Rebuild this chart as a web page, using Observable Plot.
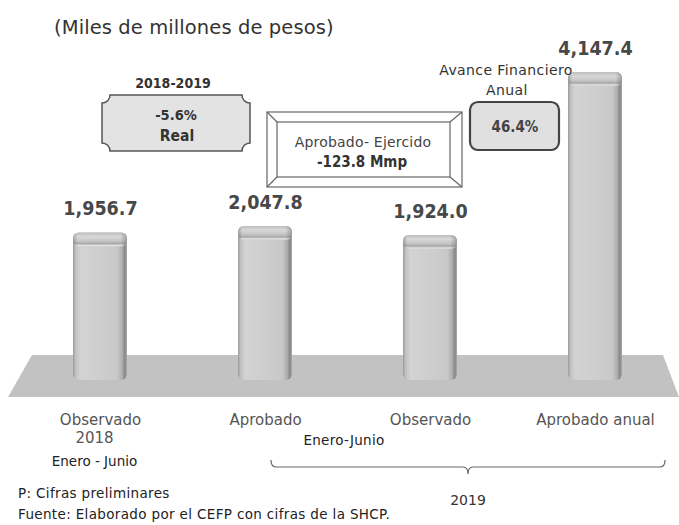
<!DOCTYPE html>
<html><head><meta charset="utf-8">
<script src="https://cdn.jsdelivr.net/npm/d3@7"></script>
<script src="https://cdn.jsdelivr.net/npm/@observablehq/plot@0.6"></script>
<style>body{margin:0;background:#fff} svg{display:block}</style>
</head><body><div id="chart"></div>
<script>
// ---- data ----
const categories = ["Observado 2018", "Aprobado", "Observado", "Aprobado anual"];
const values = [1956.7, 2047.8, 1924.0, 4147.4];
const valueLabels = ["1,956.7", "2,047.8", "1,924.0", "4,147.4"];
const tickLine1 = ["Observado", "Aprobado", "Observado", "Aprobado anual"];
const tickLine2 = ["2018", "", "", ""];
const tickLine3 = ["Enero - Junio", "", "", ""];
const title = "(Miles de millones de pesos)";
const groupLabel = "Enero-Junio";
const bracketLabel = "2019";
const notes = ["P: Cifras preliminares", "Fuente: Elaborado por el CEFP con cifras de la SHCP."];
const realChange = ["2018-2019", "-5.6%", "Real"];
const gapBox = ["Aprobado- Ejercido", "-123.8 Mmp"];
const advance = ["Avance Financiero", "Anual", "46.4%"];

const data = categories.map((c, i) => ({cat: c, val: values[i], label: valueLabels[i],
  l1: tickLine1[i], l2: tickLine2[i], l3: tickLine3[i]}));

const SANS = "DejaVu Sans, Verdana, sans-serif";
const COND = "DejaVu Sans Condensed, DejaVu Sans, sans-serif";

function background(index, scales) {
  const y0 = scales.y(0);
  const g = d3.create("svg:g");
  const defs = g.append("defs");
  const body = defs.append("linearGradient").attr("id", "barGrad").attr("x1", 0).attr("x2", 1).attr("y1", 0).attr("y2", 0);
  [[0, "#9a9a9a"], [0.05, "#c2c2c2"], [0.14, "#d3d3d3"], [0.5, "#cecece"], [0.82, "#c8c8c8"], [0.91, "#aeaeae"], [0.96, "#858585"], [1, "#aaaaaa"]]
    .forEach(([o, c]) => body.append("stop").attr("offset", o).attr("stop-color", c));
  const cap = defs.append("linearGradient").attr("id", "capGrad").attr("x1", 0).attr("x2", 0).attr("y1", 0).attr("y2", 1);
  [[0, "#bdbdbd"], [0.3, "#d8d8d8"], [0.6, "#c6c6c6"], [0.8, "#a8a8a8"], [0.92, "#e2e2e2"], [1, "#d2d2d2"]]
    .forEach(([o, c]) => cap.append("stop").attr("offset", o).attr("stop-color", c));
  const edge = defs.append("linearGradient").attr("id", "edgeGrad").attr("x1", 0).attr("x2", 1).attr("y1", 0).attr("y2", 0);
  [[0, "rgba(80,80,80,0.4)"], [0.08, "rgba(80,80,80,0)"], [0.88, "rgba(80,80,80,0)"], [1, "rgba(80,80,80,0.4)"]]
    .forEach(([o, c]) => edge.append("stop").attr("offset", o).attr("stop-color", c));
  // floor
  g.append("path")
    .attr("d", `M32,${y0 - 21} L663,${y0 - 21} L679,${y0 + 21} L8,${y0 + 21} Z`)
    .attr("fill", "#c2c2c2");
  return g.node();
}

function txt(g, x, y, s, opts = {}) {
  g.append("text").attr("x", x).attr("y", y).text(s)
    .attr("text-anchor", opts.anchor || "middle")
    .attr("dominant-baseline", "central")
    .attr("font-family", opts.family || SANS)
    .attr("font-size", opts.size || 13)
    .attr("font-weight", opts.weight || "normal")
    .attr("letter-spacing", opts.ls || 0)
    .attr("fill", opts.fill || "#333");
}

function foreground(index, scales) {
  const g = d3.create("svg:g");
  // title
  txt(g, 54, 27, title, {anchor: "start", size: 19.5, fill: "#333", ls: 0.1});
  // plaque box (real change)
  g.append("path")
    .attr("d", "M110,95 H242 A8,8 0 0 0 250,103 V143 A8,8 0 0 0 242,151 H110 A8,8 0 0 0 102,143 V103 A8,8 0 0 0 110,95 Z")
    .attr("fill", "#e3e3e3").attr("stroke", "#555").attr("stroke-width", 1.5);
  txt(g, 173, 83, realChange[0], {family: COND, weight: "bold", size: 14});
  txt(g, 176, 115, realChange[1], {family: COND, weight: "bold", size: 14.5});
  txt(g, 177, 136, realChange[2], {family: COND, weight: "bold", size: 15.5});
  // bevel frame (aprobado - ejercido)
  const fr = g.append("g").attr("fill", "none").attr("stroke", "#666").attr("stroke-width", 1.2);
  fr.append("rect").attr("x", 267).attr("y", 112).attr("width", 195).attr("height", 75).attr("fill", "#fff");
  fr.append("rect").attr("x", 277).attr("y", 122).attr("width", 173).attr("height", 55);
  fr.append("path").attr("d", "M267,112 L277,122 M462,112 L450,122 M267,187 L277,177 M462,187 L450,177");
  txt(g, 363, 142, gapBox[0], {size: 14, fill: "#444", ls: 0.2});
  txt(g, 362, 162, gapBox[1], {family: COND, weight: "bold", size: 15});
  // avance financiero
  txt(g, 506, 70, advance[0], {size: 14, fill: "#333", ls: 0.4});
  txt(g, 507, 90, advance[1], {size: 14, fill: "#333", ls: 0.4});
  g.append("rect").attr("x", 470).attr("y", 102).attr("width", 89).attr("height", 48).attr("rx", 8)
    .attr("fill", "#e0e0e0").attr("stroke", "#444").attr("stroke-width", 2.2);
  txt(g, 515, 127, advance[2], {family: COND, weight: "bold", size: 15, fill: "#444"});
  // group label and bracket
  txt(g, 344, 440, groupLabel, {size: 13.5, fill: "#222", ls: 0.3});
  g.append("path")
    .attr("d", "M271,460 Q271,467 276,467 H463 Q468,467 468,474 Q468,467 473,467 H660 Q665,467 665,460")
    .attr("fill", "none").attr("stroke", "#666").attr("stroke-width", 1.2);
  txt(g, 468, 500, bracketLabel, {size: 14, fill: "#333"});
  // notes
  txt(g, 18, 493, notes[0], {anchor: "start", size: 13.5, fill: "#222", ls: 0.35});
  txt(g, 18, 514, notes[1], {anchor: "start", size: 13.5, fill: "#222", ls: 0.35});
  return g.node();
}

const chart = Plot.plot({
  width: 679,
  height: 525,
  margin: 0,
  style: {background: "#fff"},
  x: {type: "band", domain: categories, range: [17.5, 677.5], paddingInner: 0.673, paddingOuter: 0.3365, axis: null},
  y: {domain: [0, 4147.4], range: [376, 72], axis: null},
  marks: [
    background,
    Plot.barY(data, {x: "cat", y: "val", fill: "url(#barGrad)", rx: 6, insetBottom: -4}),
    Plot.barY(data, {x: "cat", y1: "val", y2: "val", insetBottom: -14, fill: "url(#capGrad)", rx: 6}),
    Plot.barY(data, {x: "cat", y1: "val", y2: "val", insetBottom: -14, fill: "url(#edgeGrad)", rx: 6}),
    Plot.text(data, {x: "cat", y: "val", text: "label", dy: -24, fontSize: 19.5, fontWeight: "bold", fontFamily: COND, fill: "#484848"}),
    Plot.text(data, {x: "cat", y: () => 0, text: "l1", dy: 44, fontSize: 15, fontFamily: SANS, fill: "#555", style: {letterSpacing: "0.4px"}}),
    Plot.text(data, {x: "cat", y: () => 0, text: "l2", dy: 62, dx: -6, fontSize: 15, fontFamily: SANS, fill: "#555"}),
    Plot.text(data, {x: "cat", y: () => 0, text: "l3", dy: 85, dx: -6, fontSize: 13.5, fontFamily: SANS, fill: "#222"}),
    foreground
  ]
});
document.getElementById("chart").appendChild(chart);
</script>
</body></html>
